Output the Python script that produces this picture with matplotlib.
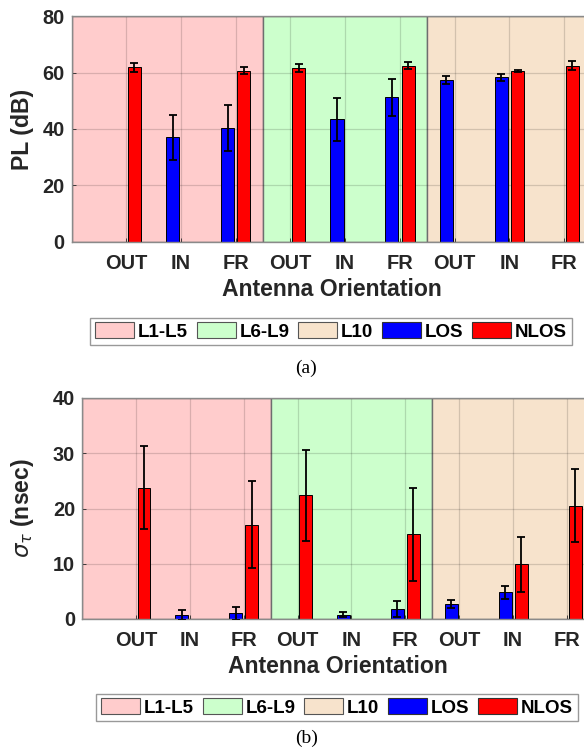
import numpy as np
import matplotlib.pyplot as plt
from matplotlib.patches import Patch

plt.rcParams['font.family'] = ['Liberation Sans', 'DejaVu Sans']

# 天线朝向 (每个区域三种)
orient = ['OUT', 'IN', 'FR']
regions = ['L1-L5', 'L6-L9', 'L10']
region_colors = [(1.0, 0.8, 0.8), (0.8, 1.0, 0.8), (0.97, 0.89, 0.8)]

# 路径损耗 PL (dB), 顺序: L1-L5 OUT/IN/FR, L6-L9 OUT/IN/FR, L10 OUT/IN/FR
pl_los = [np.nan, 37.0, 40.3, np.nan, 43.4, 51.2, 57.3, 58.3, np.nan]
pl_los_err = [np.nan, 8.0, 8.2, np.nan, 7.7, 6.5, 1.3, 1.2, np.nan]
pl_nlos = [61.8, np.nan, 60.6, 61.6, np.nan, 62.4, np.nan, 60.6, 62.4]
pl_nlos_err = [1.5, np.nan, 1.2, 1.5, np.nan, 1.2, np.nan, 0.3, 1.5]

# 时延扩展 sigma_tau (nsec)
ds_los = [np.nan, 0.8, 1.0, np.nan, 0.8, 1.8, 2.7, 4.8, np.nan]
ds_los_err = [np.nan, 0.9, 1.1, np.nan, 0.4, 1.5, 0.7, 1.2, np.nan]
ds_nlos = [23.8, np.nan, 17.1, 22.4, np.nan, 15.3, np.nan, 9.9, 20.5]
ds_nlos_err = [7.6, np.nan, 7.9, 8.2, np.nan, 8.4, np.nan, 5.0, 6.6]

TXT = '#262626'
x = np.arange(1, 10)
w = 0.24
off = 0.15


def draw_panel(ax, los, los_err, nlos, nlos_err, ymax, ystep, ylabel, ylabel_x):
    # 背景区域
    for i, c in enumerate(region_colors):
        ax.axvspan(0 if i == 0 else 0.5 + 3 * i, 3.5 + 3 * i, color=c,
                   ec='#6e6e6e', lw=1.0, zorder=0.1)
    ax.set_axisbelow(True)
    ax.grid(True, color='k', alpha=0.15, lw=0.9)

    ax.bar(x - off, los, w, color='b', edgecolor='k', lw=0.7, zorder=2)
    ax.bar(x + off, nlos, w, color='r', edgecolor='k', lw=0.7, zorder=2)
    ax.errorbar(x - off, los, yerr=los_err, fmt='none', ecolor='k',
                elinewidth=1.3, capsize=2.6, capthick=1.3, zorder=3)
    ax.errorbar(x + off, nlos, yerr=nlos_err, fmt='none', ecolor='k',
                elinewidth=1.3, capsize=2.6, capthick=1.3, zorder=3)

    ax.set_xlim(0, 9.5)
    ax.set_ylim(0, ymax)
    ax.set_yticks(np.arange(0, ymax + 1, ystep))
    ax.set_xticks(x)
    ax.set_xticklabels(orient * 3)
    ax.tick_params(direction='in', length=3, labelsize=14.4, colors=TXT, width=0.6)
    ax.tick_params(axis='x', pad=9)
    ax.tick_params(axis='y', pad=5)
    for lab in ax.get_xticklabels() + ax.get_yticklabels():
        lab.set_fontweight('bold')
    for s in ax.spines.values():
        s.set_color('#8a8a8a')
        s.set_linewidth(1.0)
    ax.set_xlabel('Antenna Orientation', fontsize=16.6, fontweight='bold',
                  color=TXT, labelpad=3)
    ax.set_ylabel(ylabel, fontsize=16.6, fontweight='bold', color=TXT)
    ax.yaxis.set_label_coords(ylabel_x, 0.5)


def add_legend(fig, cx, cy):
    handles = [Patch(facecolor=c, edgecolor='#555555', lw=0.8) for c in region_colors]
    handles += [Patch(facecolor='b', edgecolor='#333333', lw=0.8),
                Patch(facecolor='r', edgecolor='#333333', lw=0.8)]
    leg = fig.legend(handles, regions + ['LOS', 'NLOS'], loc='center',
                     bbox_to_anchor=(cx / 584, 1 - cy / 748), ncol=5,
                     prop={'weight': 'bold', 'size': 13.5},
                     handlelength=2.1, handleheight=0.95, handletextpad=0.2,
                     columnspacing=0.45, borderpad=0.25, borderaxespad=0,
                     fancybox=False, framealpha=1, edgecolor='#999999')
    leg.get_frame().set_linewidth(1.0)


fig = plt.figure(figsize=(5.84, 7.48), dpi=100)

ax1 = fig.add_axes([71.5 / 584, 1 - 242 / 748, 520 / 584, 226 / 748])
draw_panel(ax1, pl_los, pl_los_err, pl_nlos, pl_nlos_err, 80, 20,
           'PL (dB)', -0.072)
add_legend(fig, 331, 331.5)
fig.text(306 / 584, 1 - 368 / 748, '(a)', ha='center', va='center',
         fontsize=14, family='Liberation Serif')

ax2 = fig.add_axes([82 / 584, 1 - 619 / 748, 512 / 584, 221 / 748])
draw_panel(ax2, ds_los, ds_los_err, ds_nlos, ds_nlos_err, 40, 10,
           r'$\sigma_\tau$ (nsec)', -0.09)
add_legend(fig, 337, 707.5)
fig.text(307 / 584, 1 - 738 / 748, '(b)', ha='center', va='center',
         fontsize=14, family='Liberation Serif')

fig.savefig('out.png', dpi=100)
